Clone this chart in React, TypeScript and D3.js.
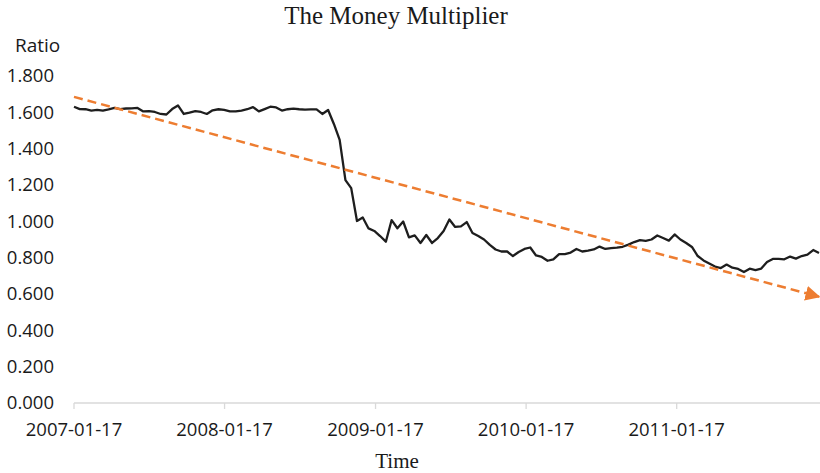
import React from "react"
import * as d3 from "d3"

// biweekly observations starting 2007-01-17
const startDate = "2007-01-17"
const stepDays = 14
const ratio = [
    1.631, 1.618, 1.617, 1.610, 1.614, 1.609, 1.616, 1.624, 1.618, 1.621,
    1.622, 1.624, 1.605, 1.607, 1.602, 1.591, 1.588, 1.618, 1.638, 1.591,
    1.598, 1.607, 1.602, 1.591, 1.611, 1.617, 1.613, 1.605, 1.605, 1.610,
    1.617, 1.629, 1.605, 1.618, 1.631, 1.627, 1.610, 1.617, 1.620, 1.617,
    1.615, 1.616, 1.616, 1.591, 1.613, 1.536, 1.448, 1.227, 1.183, 1.002,
    1.021, 0.961, 0.947, 0.919, 0.888, 1.007, 0.962, 0.999, 0.912, 0.923,
    0.881, 0.925, 0.881, 0.908, 0.947, 1.010, 0.969, 0.972, 0.996, 0.936,
    0.919, 0.900, 0.870, 0.845, 0.834, 0.834, 0.809, 0.831, 0.848, 0.856,
    0.812, 0.804, 0.783, 0.791, 0.820, 0.820, 0.828, 0.848, 0.834, 0.839,
    0.845, 0.861, 0.848, 0.852, 0.855, 0.860, 0.872, 0.886, 0.897, 0.893,
    0.900, 0.922, 0.908, 0.894, 0.928, 0.900, 0.881, 0.859, 0.809, 0.785,
    0.768, 0.751, 0.743, 0.762, 0.745, 0.738, 0.721, 0.739, 0.732, 0.740,
    0.776, 0.793, 0.793, 0.791, 0.806, 0.795, 0.809, 0.817, 0.842, 0.826,
]
// hand-drawn trend arrow, start and end values
const trendValues = [1.685, 0.585]
const xTickLabels = ["2007-01-17", "2008-01-17", "2009-01-17", "2010-01-17", "2011-01-17"]
const yTicks = [0, 0.2, 0.4, 0.6, 0.8, 1.0, 1.2, 1.4, 1.6, 1.8]

const W = 820
const H = 473
const margin = {top: 76, bottom: 70, left: 74, right: 1}

const parse = d3.timeParse("%Y-%m-%d")
const t0 = parse(startDate) as Date
const dates = ratio.map((_, i) => d3.timeDay.offset(t0, i * stepDays))
const data: Array<[Date, number]> = ratio.map((v, i) => [dates[i], v])

const sansFont = "'Open Sans', 'Noto Sans', sans-serif"
const serifFont = "'Liberation Serif', 'DejaVu Serif', serif"

const App = () => {
    const x = d3.scaleTime()
        .domain([dates[0], dates[dates.length - 1]])
        .range([margin.left, W - margin.right])
    const y = d3.scaleLinear()
        .domain([0, 1.8])
        .range([H - margin.bottom, margin.top])

    const line = d3.line<[Date, number]>()
        .x(d => x(d[0]))
        .y(d => y(d[1]))

    const baseY = y(0)
    const x0 = x(dates[0])

    return (
        <svg width={W} height={H} style={{position: "absolute", left: 0, top: 0, background: "#fff"}}>
            <defs>
                <marker id="arrow" viewBox="0 0 10 10" refX="9" refY="5"
                        markerWidth="6" markerHeight="6" orient="auto" markerUnits="strokeWidth">
                    <path d="M0,0 L10,5 L0,10 Z" fill="#ED7D31"/>
                </marker>
            </defs>

            <text x={396} y={24} textAnchor="middle" fontFamily={serifFont} fontSize={25} fill="#1a1a1a">
                The Money Multiplier
            </text>
            <text x={15} y={52} fontFamily={sansFont} fontSize={19} fill="#1a1a1a">Ratio</text>

            {/* y tick labels */}
            {yTicks.map(t => (
                <text key={t} x={54} y={y(t)} dy="0.35em" textAnchor="end"
                      fontFamily={sansFont} fontSize={18.5} fill="#1a1a1a">
                    {d3.format(".3f")(t)}
                </text>
            ))}

            {/* x axis */}
            <line x1={x0} x2={W} y1={baseY} y2={baseY} stroke="#d9d9d9" strokeWidth={1.3}/>
            {xTickLabels.map(s => {
                const xx = x(parse(s) as Date)
                return (
                    <g key={s}>
                        <line x1={xx} x2={xx} y1={baseY} y2={baseY + 6} stroke="#d9d9d9" strokeWidth={1.3}/>
                        <text x={xx} y={baseY + 27} dy="0.35em" textAnchor="middle"
                              fontFamily={sansFont} fontSize={18.5} fill="#1a1a1a">{s}</text>
                    </g>
                )
            })}
            <text x={397} y={468} textAnchor="middle" fontFamily={serifFont} fontSize={21} fill="#1a1a1a">Time</text>

            {/* series */}
            <path d={line(data) ?? ""} fill="none" stroke="#1e1e1e" strokeWidth={2.3} strokeLinejoin="round"/>

            {/* trend arrow */}
            <line x1={x0} y1={y(trendValues[0])} x2={W - 1} y2={y(trendValues[1])}
                  stroke="#ED7D31" strokeWidth={2.5} strokeDasharray="9,5" markerEnd="url(#arrow)"/>
        </svg>
    )
}

export default App
